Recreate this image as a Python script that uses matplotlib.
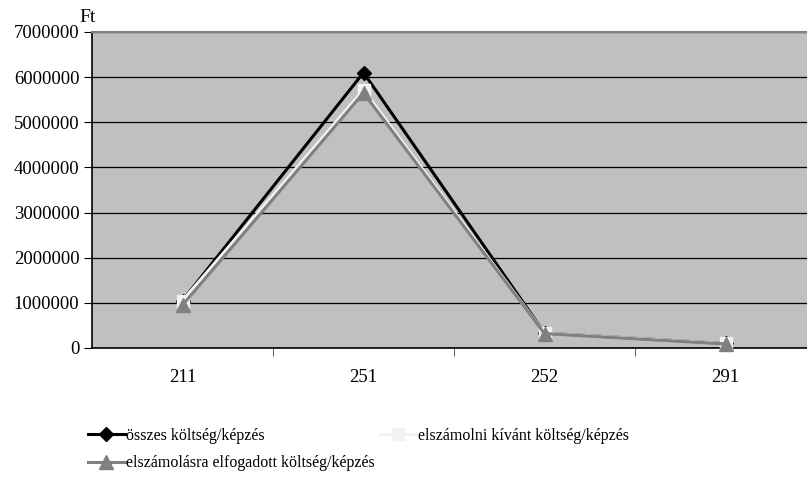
import matplotlib as mpl
mpl.use('Agg')
import matplotlib.pyplot as plt
from matplotlib.ticker import FixedLocator, NullFormatter

# data
categories = ['211', '251', '252', '291']
osszes = [1050000, 6100000, 330000, 100000]
elszamolni = [1050000, 5720000, 330000, 100000]
elfogadott = [950000, 5650000, 320000, 90000]
series_labels = ['összes költség/képzés',
                 'elszámolni kívánt költség/képzés',
                 'elszámolásra elfogadott költség/képzés']

plt.rcParams['font.family'] = ['Liberation Serif', 'DejaVu Serif']
plt.rcParams['font.size'] = 13.5

W, H = 807, 479
fig = plt.figure(figsize=(W / 100, H / 100), dpi=100)
ax = fig.add_axes([92 / W, 1 - 348 / H, (816 - 92) / W, (348 - 32) / H])
ax.set_facecolor('#c0c0c0')

x = list(range(len(categories)))
l1, = ax.plot(x, osszes, color='black', lw=2.2, marker='D', ms=7, zorder=3, clip_on=False)
l2, = ax.plot(x, elszamolni, color='#f2f2f2', lw=2.2, marker='s', ms=8, zorder=4, clip_on=False)
l3, = ax.plot(x, elfogadott, color='#808080', lw=2.2, marker='^', ms=10, zorder=5, clip_on=False)

ax.set_xlim(-0.5, len(categories) - 0.5)
ax.set_ylim(0, 7000000)
ax.set_yticks(range(0, 7000001, 1000000))
ax.set_yticklabels([str(v) for v in range(0, 7000001, 1000000)])
ax.yaxis.grid(True, color='black', lw=0.9)
ax.set_axisbelow(True)

ax.set_xticks(x)
ax.set_xticklabels(categories)
ax.tick_params(axis='x', which='major', length=0, pad=15)
ax.xaxis.set_minor_locator(FixedLocator([i + 0.5 for i in x[:-1]]))
ax.xaxis.set_minor_formatter(NullFormatter())
ax.tick_params(axis='x', which='minor', length=6, color='#404040', direction='out')
ax.tick_params(axis='y', length=6, direction='out', pad=3)

for s in ['left', 'bottom']:
    ax.spines[s].set_color('black')
    ax.spines[s].set_linewidth(1.2)
ax.spines['top'].set_color('#808080')
ax.spines['top'].set_linewidth(1.5)
ax.spines['right'].set_visible(False)

fig.text(79 / W, 1 - 18 / H, 'Ft', ha='left', va='center', fontsize=14)

# legend fills column by column: first column gets series 1 and 3
fig.legend([l1, l3, l2], [series_labels[0], series_labels[2], series_labels[1]],
           ncol=2, loc='upper left', fontsize=11.5,
           bbox_to_anchor=(88 / W, 1 - 428 / H), frameon=False,
           handlelength=2.3, handletextpad=0.1, columnspacing=0.3,
           labelspacing=0.7, borderpad=0, borderaxespad=0)

fig.savefig('out.png', dpi=100)
